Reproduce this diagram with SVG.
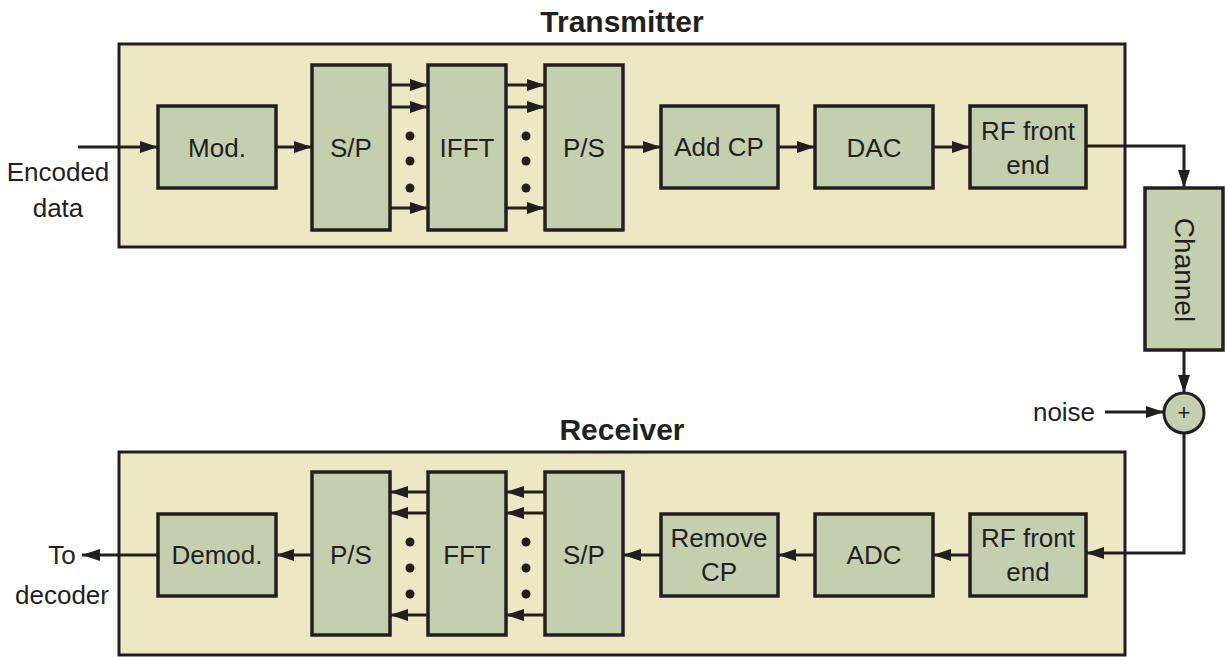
<svg xmlns="http://www.w3.org/2000/svg" width="1225" height="657" viewBox="0 0 1225 657">
<style>
.panel{fill:#ece8c3;stroke:#231f20;stroke-width:3}
.box{fill:#c3cfae;stroke:#231f20;stroke-width:3.5}
.t{font-family:"Liberation Sans",Arial,sans-serif;font-size:26px;fill:#231f20;text-anchor:middle;dominant-baseline:central}
.title{font-family:"Liberation Sans",Arial,sans-serif;font-size:30px;font-weight:bold;fill:#231f20;text-anchor:middle}
.c{stroke:#231f20;stroke-width:3;fill:none}
.dot{fill:#231f20}
</style>
<defs>
<marker id="ah" viewBox="0 0 18 12" refX="18" refY="6" markerWidth="18" markerHeight="12" markerUnits="userSpaceOnUse" orient="auto">
<path d="M0,0 L18,6 L0,12 Z" fill="#231f20"/>
</marker>
</defs>
<g id="tx-panel"><rect class="panel" x="119" y="44" width="1006" height="203"/><text class="title" x="622" y="32">Transmitter</text></g>
<g id="rx-panel"><rect class="panel" x="119" y="452" width="1006" height="203"/><text class="title" x="622" y="440">Receiver</text></g>

<g id="mod"><rect class="box" x="158" y="106" width="118" height="82"/><text class="t" x="217" y="148">Mod.</text></g>
<g id="tx-sp"><rect class="box" x="312" y="65" width="78" height="165"/><text class="t" x="351" y="148">S/P</text></g>
<g id="ifft"><rect class="box" x="428" y="65" width="78" height="165"/><text class="t" x="467" y="148">IFFT</text></g>
<g id="tx-ps"><rect class="box" x="545" y="65" width="78" height="165"/><text class="t" x="584" y="148">P/S</text></g>
<g id="addcp"><rect class="box" x="661" y="106" width="117" height="82"/><text class="t" x="719" y="147">Add CP</text></g>
<g id="dac"><rect class="box" x="815" y="106" width="118" height="82"/><text class="t" x="874" y="148">DAC</text></g>
<g id="tx-rf"><rect class="box" x="970" y="106" width="116" height="82"/><text class="t" x="1028" y="131">RF front</text><text class="t" x="1028" y="165">end</text></g>

<g id="channel"><rect class="box" x="1145" y="188" width="78" height="162"/><text class="t" transform="translate(1184,270) rotate(90)" style="font-size:28px">Channel</text></g>
<g id="sum"><circle cx="1184" cy="413" r="20" fill="#c3cfae" stroke="#231f20" stroke-width="3"/><text class="t" x="1184" y="412" style="font-size:22px">+</text></g>

<g id="demod"><rect class="box" x="158" y="514" width="118" height="82"/><text class="t" x="217" y="555">Demod.</text></g>
<g id="rx-ps"><rect class="box" x="312" y="472" width="78" height="163"/><text class="t" x="351" y="555">P/S</text></g>
<g id="fft"><rect class="box" x="428" y="472" width="78" height="163"/><text class="t" x="467" y="555">FFT</text></g>
<g id="rx-sp"><rect class="box" x="545" y="472" width="78" height="163"/><text class="t" x="584" y="555">S/P</text></g>
<g id="rmcp"><rect class="box" x="661" y="514" width="117" height="82"/><text class="t" x="719" y="538">Remove</text><text class="t" x="719" y="572">CP</text></g>
<g id="adc"><rect class="box" x="815" y="514" width="118" height="82"/><text class="t" x="874" y="555">ADC</text></g>
<g id="rx-rf"><rect class="box" x="970" y="514" width="116" height="82"/><text class="t" x="1028" y="538">RF front</text><text class="t" x="1028" y="572">end</text></g>

<g id="labels">
<text class="t" x="58" y="172">Encoded</text><text class="t" x="58" y="208">data</text>
<text class="t" x="62" y="555">To</text><text class="t" x="62" y="595">decoder</text>
<text class="t" x="1064" y="412">noise</text>
</g>

<g id="connectors">
<line class="c" x1="78" y1="147" x2="158" y2="147" marker-end="url(#ah)"/>
<line class="c" x1="276" y1="147" x2="312" y2="147" marker-end="url(#ah)"/>
<line class="c" x1="390" y1="85" x2="428" y2="85" marker-end="url(#ah)"/>
<line class="c" x1="390" y1="107" x2="428" y2="107" marker-end="url(#ah)"/>
<line class="c" x1="390" y1="208" x2="428" y2="208" marker-end="url(#ah)"/>
<line class="c" x1="506" y1="85" x2="545" y2="85" marker-end="url(#ah)"/>
<line class="c" x1="506" y1="107" x2="545" y2="107" marker-end="url(#ah)"/>
<line class="c" x1="506" y1="208" x2="545" y2="208" marker-end="url(#ah)"/>
<line class="c" x1="623" y1="147" x2="661" y2="147" marker-end="url(#ah)"/>
<line class="c" x1="778" y1="147" x2="815" y2="147" marker-end="url(#ah)"/>
<line class="c" x1="933" y1="147" x2="970" y2="147" marker-end="url(#ah)"/>
<polyline class="c" points="1086,146 1184,146 1184,188" marker-end="url(#ah)"/>
<line class="c" x1="1184" y1="350" x2="1184" y2="393" marker-end="url(#ah)"/>
<line class="c" x1="1105" y1="412" x2="1164" y2="412" marker-end="url(#ah)"/>
<polyline class="c" points="1184,433 1184,553 1086,553" marker-end="url(#ah)"/>
<line class="c" x1="970" y1="555" x2="933" y2="555" marker-end="url(#ah)"/>
<line class="c" x1="815" y1="555" x2="778" y2="555" marker-end="url(#ah)"/>
<line class="c" x1="661" y1="555" x2="623" y2="555" marker-end="url(#ah)"/>
<line class="c" x1="545" y1="492" x2="506" y2="492" marker-end="url(#ah)"/>
<line class="c" x1="545" y1="513" x2="506" y2="513" marker-end="url(#ah)"/>
<line class="c" x1="545" y1="615" x2="506" y2="615" marker-end="url(#ah)"/>
<line class="c" x1="428" y1="492" x2="390" y2="492" marker-end="url(#ah)"/>
<line class="c" x1="428" y1="513" x2="390" y2="513" marker-end="url(#ah)"/>
<line class="c" x1="428" y1="615" x2="390" y2="615" marker-end="url(#ah)"/>
<line class="c" x1="312" y1="555" x2="276" y2="555" marker-end="url(#ah)"/>
<line class="c" x1="158" y1="555" x2="82" y2="555" marker-end="url(#ah)"/>
</g>

<g id="dots">
<circle class="dot" cx="410" cy="136" r="4.5"/><circle class="dot" cx="410" cy="161" r="4.5"/><circle class="dot" cx="410" cy="188" r="4.5"/>
<circle class="dot" cx="526" cy="136" r="4.5"/><circle class="dot" cx="526" cy="161" r="4.5"/><circle class="dot" cx="526" cy="188" r="4.5"/>
<circle class="dot" cx="410" cy="542" r="4.5"/><circle class="dot" cx="410" cy="568" r="4.5"/><circle class="dot" cx="410" cy="594" r="4.5"/>
<circle class="dot" cx="526" cy="542" r="4.5"/><circle class="dot" cx="526" cy="568" r="4.5"/><circle class="dot" cx="526" cy="594" r="4.5"/>
</g>
</svg>
